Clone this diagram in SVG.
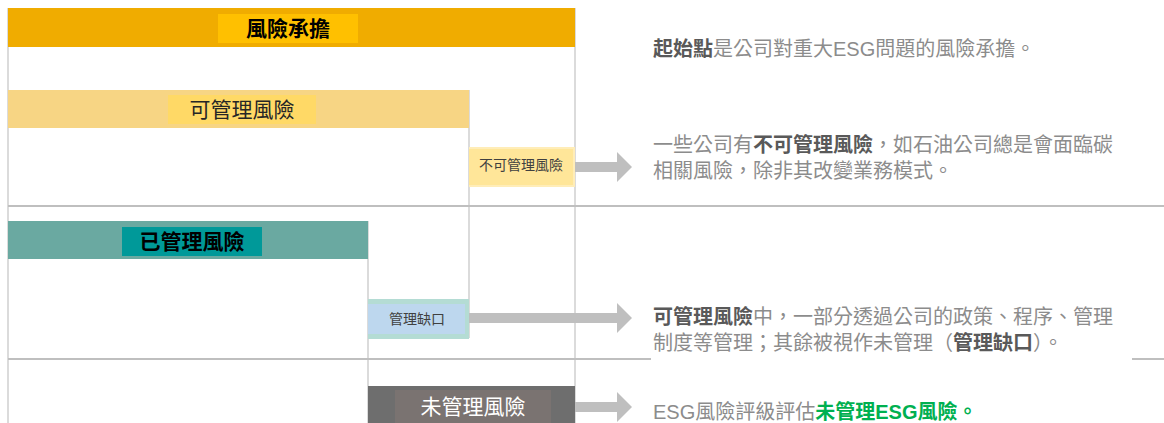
<svg xmlns="http://www.w3.org/2000/svg" width="1164" height="423" viewBox="0 0 1164 423">
<style>
  text { font-family: "Liberation Sans", "Noto Sans CJK TC", sans-serif; }
  .cjk { font-family: "Noto Sans CJK TC", sans-serif; }
  .grid-v { stroke: #C8C8C8; stroke-width: 1.3; fill: none; }
  .grid-h { stroke: #BFBFBF; stroke-width: 2; fill: none; }
  .conn { stroke: #BFBFBF; stroke-width: 10; fill: none; marker-end: url(#head); }
  .lbl { text-anchor: middle; font-size: 21px; }
  .small { text-anchor: middle; font-size: 14px; fill: #404040; }
  .desc { font-size: 20px; fill: #8C8C8C; }
  .b { font-weight: bold; fill: #595959; }
  .g { font-weight: bold; fill: #00B050; }
</style>
<defs>
  <marker id="head" markerUnits="userSpaceOnUse" markerWidth="15" markerHeight="30" refX="0" refY="15" orient="auto">
    <path d="M0,0 L15,15 L0,30 Z" fill="#BFBFBF"/>
  </marker>
</defs>
<rect width="1164" height="423" fill="#FFFFFF"/>

<g id="grid">
  <line class="grid-v" x1="8" y1="8" x2="8" y2="423"/>
  <line class="grid-v" x1="575" y1="8" x2="575" y2="423"/>
  <line class="grid-v" x1="469" y1="90" x2="469" y2="338"/>
  <line class="grid-v" x1="368" y1="221" x2="368" y2="423"/>
  <line class="grid-h" x1="8" y1="206" x2="1164" y2="206"/>
  <line class="grid-h" x1="8" y1="359" x2="1164" y2="359"/>
</g>

<g id="risk-bearing">
  <rect x="8" y="8" width="567" height="39" fill="#F0AC00"/>
  <rect x="218" y="14" width="140" height="29" fill="#FFC000"/>
  <text class="lbl" x="288" y="36" font-weight="bold" fill="#000000">風險承擔</text>
</g>

<g id="manageable">
  <rect x="8" y="90" width="461" height="38" fill="#F7D584"/>
  <rect x="168" y="95" width="148" height="29" fill="#FFD966"/>
  <text class="lbl" x="242" y="117" fill="#262626">可管理風險</text>
</g>

<g id="unmanageable">
  <rect x="469" y="147" width="106" height="40" fill="#FFEDB8"/>
  <rect x="469" y="149" width="104" height="36" fill="#FFE699"/>
  <text class="small" x="521" y="170">不可管理風險</text>
</g>

<g id="managed">
  <rect x="8" y="221" width="360" height="38" fill="#6AA9A1"/>
  <rect x="122" y="227" width="140" height="29" fill="#009999"/>
  <text class="lbl" x="192" y="249" font-weight="bold" fill="#000000">已管理風險</text>
</g>

<g id="gap">
  <rect x="368" y="299" width="101" height="40" fill="#B4DCD4"/>
  <rect x="368" y="304" width="97" height="30" fill="#BDD7EE"/>
  <text class="small" x="417" y="324">管理缺口</text>
</g>

<g id="unmanaged">
  <rect x="368" y="386" width="207" height="37" fill="#6E6E6E"/>
  <rect x="395" y="390" width="156" height="33" fill="#7A7371"/>
  <text class="lbl" x="473" y="414" fill="#FFFFFF">未管理風險</text>
</g>

<g id="connectors">
  <line class="conn" x1="575" y1="167" x2="617" y2="167"/>
  <line class="conn" x1="469" y1="318" x2="617" y2="318"/>
  <line class="conn" x1="575" y1="407" x2="617" y2="407"/>
</g>

<g id="desc-1">
  <text class="desc" x="653" y="56"><tspan class="b">起始點</tspan>是公司對重大ESG問題的風險承擔。</text>
</g>
<g id="desc-2">
  <text class="desc" x="653" y="152">一些公司有<tspan class="b">不可管理風險</tspan>，如石油公司總是會面臨碳</text>
  <text class="desc" x="653" y="178">相關風險，除非其改變業務模式。</text>
</g>
<g id="desc-3">
  <rect x="651" y="298" width="481" height="68" fill="#FFFFFF"/>
  <text class="desc" x="653" y="324"><tspan class="b">可管理風險</tspan>中，一部分透過公司的政策、程序、管理</text>
  <text class="desc" x="653" y="350">制度等管理；其餘被視作未管理<tspan class="cjk">（</tspan><tspan class="b">管理缺口</tspan><tspan class="cjk">）</tspan>。</text>
</g>
<g id="desc-4">
  <text class="desc" x="653" y="419">ESG風險評級評估<tspan class="g">未管理ESG風險。</tspan></text>
</g>
</svg>
